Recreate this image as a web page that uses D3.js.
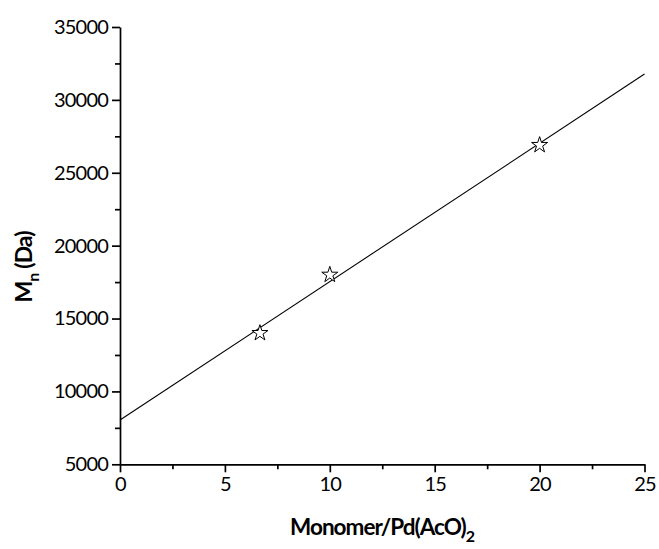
<!DOCTYPE html>
<html>
<head>
<meta charset="utf-8">
<script src="https://cdn.jsdelivr.net/npm/d3@7"></script>
<style>
  html, body { margin: 0; padding: 0; background: #fff; }
  svg { display: block; }
  .tick text { font-family: Lato, "Open Sans", sans-serif; font-size: 20px; letter-spacing: -0.8px; fill: #000; }
  .title { font-family: Lato, "Open Sans", sans-serif; font-weight: bold; fill: #000; letter-spacing: -1px; }
</style>
</head>
<body>
<svg id="chart" width="659" height="549"></svg>
<script>
// Measured Mn against monomer / Pd(AcO)2 ratio
const ratio = [6.67, 10, 20];
const mn = [14000, 18000, 26900];

// Linear fit drawn across the whole x range
const fitX = [0, 25];
const fitY = [8040, 31770];

// Axis ticks
const xMajor = [0, 5, 10, 15, 20, 25];
const xMinor = [2.5, 7.5, 12.5, 17.5, 22.5];
const yMajor = [5000, 10000, 15000, 20000, 25000, 30000, 35000];
const yMinor = [7500, 12500, 17500, 22500, 27500, 32500];

const svg = d3.select("#chart");
const x = d3.scaleLinear().domain([0, 25]).range([120, 644.5]);
const y = d3.scaleLinear().domain([5000, 35000]).range([464.3, 27]);

const axisW = 1.7;

// Minor ticks
svg.append("g")
  .attr("transform", `translate(0,${y(5000)})`)
  .call(d3.axisBottom(x).tickValues(xMinor).tickSize(5).tickSizeOuter(0).tickFormat(""))
  .call(g => g.select(".domain").remove())
  .call(g => g.selectAll("line").attr("stroke", "#000").attr("stroke-width", axisW));
svg.append("g")
  .attr("transform", `translate(${x(0)},0)`)
  .call(d3.axisLeft(y).tickValues(yMinor).tickSize(5).tickSizeOuter(0).tickFormat(""))
  .call(g => g.select(".domain").remove())
  .call(g => g.selectAll("line").attr("stroke", "#000").attr("stroke-width", axisW));

// Major ticks and labels
svg.append("g")
  .attr("transform", `translate(0,${y(5000)})`)
  .call(d3.axisBottom(x).tickValues(xMajor).tickSize(8).tickSizeOuter(0).tickPadding(5).tickFormat(d3.format("d")))
  .call(g => g.select(".domain").attr("stroke", "#000").attr("stroke-width", axisW))
  .call(g => g.selectAll("line").attr("stroke", "#000").attr("stroke-width", axisW));
svg.append("g")
  .attr("transform", `translate(${x(0)},0)`)
  .call(d3.axisLeft(y).tickValues(yMajor).tickSize(8).tickSizeOuter(0).tickPadding(4).tickFormat(d3.format("d")))
  .call(g => g.select(".domain").attr("stroke", "#000").attr("stroke-width", axisW))
  .call(g => g.selectAll("line").attr("stroke", "#000").attr("stroke-width", axisW));

// Fit line
svg.append("path")
  .datum(fitX.map((v, i) => [v, fitY[i]]))
  .attr("fill", "none")
  .attr("stroke", "#000")
  .attr("stroke-width", 1.1)
  .attr("d", d3.line().x(d => x(d[0])).y(d => y(d[1])));

// Data points as open stars
svg.append("g")
  .selectAll("path")
  .data(ratio.map((v, i) => [v, mn[i]]))
  .join("path")
  .attr("transform", d => `translate(${x(d[0])},${y(d[1])})`)
  .attr("d", d3.symbol(d3.symbolStar, 80))
  .attr("fill", "#fff")
  .attr("stroke", "#000")
  .attr("stroke-width", 1);

// X axis title
const xt = svg.append("text")
  .attr("class", "title")
  .attr("x", 382)
  .attr("y", 535)
  .attr("text-anchor", "middle")
  .style("font-size", "22.5px");
xt.append("tspan").text("Monomer/Pd(AcO)");
xt.append("tspan").attr("dy", 7).style("font-size", "16px").text("2");

// Y axis title
const yt = svg.append("text")
  .attr("class", "title")
  .attr("transform", "translate(32,267) rotate(-90)")
  .attr("text-anchor", "middle")
  .style("font-size", "23px");
yt.append("tspan").text("M");
yt.append("tspan").attr("dy", 7).style("font-size", "16px").text("n");
yt.append("tspan").attr("dy", -7).attr("dx", 5).text("(Da)");
</script>
</body>
</html>
